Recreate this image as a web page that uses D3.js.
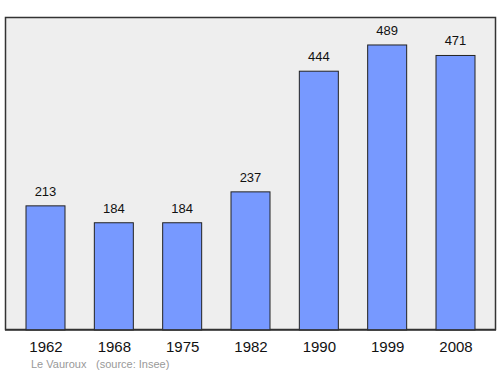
<!DOCTYPE html>
<html>
<head>
<meta charset="utf-8">
<script src="https://cdn.jsdelivr.net/npm/d3@7"></script>
<style>
body { margin: 0; background: white; }
svg { display: block; font-family: "Liberation Sans", Arial, sans-serif; }
</style>
</head>
<body>
<svg id="mysvg" width="500" height="374"></svg>
<script>
let years = ["1962", "1968", "1975", "1982", "1990", "1999", "2008"];
let population = [213, 184, 184, 237, 444, 489, 471];
let placeName = "Le Vauroux";
let sourceText = "(source: Insee)";

let svg = d3.select('#mysvg');

// frame
svg.append("rect")
    .attr("x", 5.5).attr("y", 17.5)
    .attr("width", 490).attr("height", 312)
    .attr("fill", "#eeeeee")
    .attr("stroke", "#333")
    .attr("stroke-width", 1.5);

let x = d3.scalePoint().domain(years).range([45.5, 455.5]);
let y = d3.scaleLinear().domain([0, 537]).range([330, 17]);
let barW = 39;

let data = years.map(function(d, i){ return {year: d, value: population[i]}; });

svg.selectAll("rect.bar")
    .data(data)
    .enter()
    .append("rect")
    .attr("class", "bar")
    .attr("x", function(d){ return x(d.year) - barW/2; })
    .attr("y", function(d){ return y(d.value); })
    .attr("width", barW)
    .attr("height", function(d){ return y(0) - y(d.value); })
    .attr("fill", "#7799ff")
    .attr("stroke", "#222")
    .attr("stroke-width", 1);

svg.selectAll("text.val")
    .data(data)
    .enter()
    .append("text")
    .attr("class", "val")
    .attr("x", function(d){ return x(d.year); })
    .attr("y", function(d){ return y(d.value) - 10; })
    .attr("text-anchor", "middle")
    .attr("font-size", 13)
    .attr("fill", "#111")
    .text(function(d){ return d.value; });

// bottom axis line redrawn over bars
svg.append("line")
    .attr("x1", 5).attr("x2", 496)
    .attr("y1", 330).attr("y2", 330)
    .attr("stroke", "#333").attr("stroke-width", 1.5);

let xAxis = d3.axisBottom(x).tickSize(0).tickPadding(0);
let gx = svg.append("g").attr("transform", "translate(0,330)").call(xAxis);
gx.select(".domain").remove();
gx.selectAll("text")
    .attr("dy", null)
    .attr("y", 22)
    .attr("font-size", 15)
    .attr("font-family", "Liberation Sans, Arial, sans-serif")
    .attr("fill", "#111");

svg.append("text")
    .attr("x", 31).attr("y", 368)
    .attr("font-size", 11)
    .attr("fill", "#999")
    .text(placeName);
svg.append("text")
    .attr("x", 96).attr("y", 368)
    .attr("font-size", 11)
    .attr("fill", "#999")
    .text(sourceText);
</script>
</body>
</html>
